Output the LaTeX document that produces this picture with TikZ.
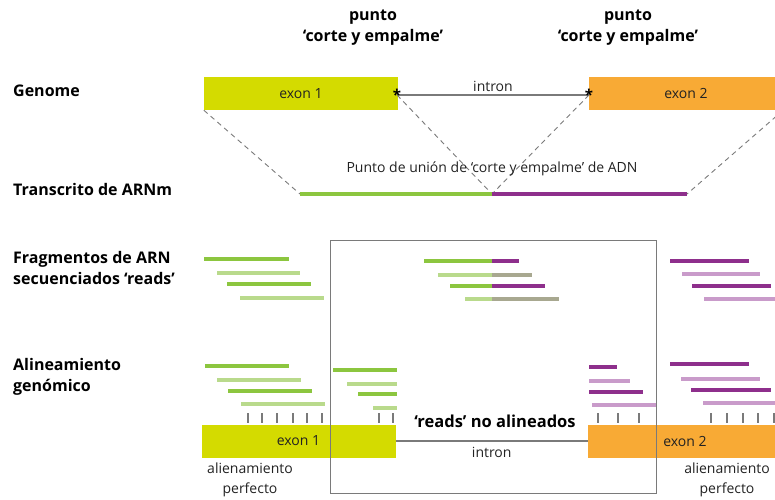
\documentclass[tikz,border=0pt]{standalone}
\usepackage{fontspec}
\setmainfont{Open Sans}
\usetikzlibrary{positioning}

\definecolor{exonyellow}{HTML}{D4DB00}
\definecolor{exonorange}{HTML}{F8AA35}
\definecolor{rdgreen}{HTML}{8CC63F}
\definecolor{rdlgreen}{HTML}{B9DA8C}
\definecolor{rdpurple}{HTML}{8E2F8C}
\definecolor{rdlpurple}{HTML}{C99BCA}
\definecolor{rdolive}{HTML}{A8A890}
\definecolor{linegray}{HTML}{7A7A7A}
\definecolor{textdark}{HTML}{222222}

\tikzset{
  exonbox/.style={minimum width=194pt, minimum height=33pt, inner sep=0pt,
    text=textdark, font=\fontsize{14}{16}\selectfont},
  rowlabel/.style={anchor=west, align=left, inner sep=0pt, text=black,
    font=\bfseries\fontsize{16}{21}\selectfont},
  toplabel/.style={align=center, inner sep=0pt, text=black,
    font=\bfseries\fontsize{16}{21}\selectfont},
  smalltext/.style={inner sep=2pt, text=textdark, font=\fontsize{14}{20}\selectfont},
  intronline/.style={linegray, line width=1.4pt},
  cutline/.style={linegray, line width=0.9pt, dash pattern=on 5pt off 4pt},
  readline/.style={line width=3.4pt},
  tickline/.style={linegray, line width=1.5pt},
  splicemark/.style={inner sep=0pt, text=black, font=\bfseries\fontsize{15}{15}\selectfont},
}

\begin{document}
\begin{tikzpicture}[x=1pt, y=-1pt]
  \useasboundingbox (0,0) rectangle (775,499);
  \clip (0,0) rectangle (775,499);

  % top row: genome
  \node [toplabel] (sp1) at (373,28) {punto\\‘corte y empalme’};
  \node [toplabel] (sp2) at (628,28) {punto\\‘corte y empalme’};
  \node [rowlabel] (genome) at (13,91) {Genome};
  \node [exonbox, fill=exonyellow] (ex1) at (301,93.5) {exon 1};
  \node [exonbox, fill=exonorange] (ex2) at (686,93.5) {exon 2};
  \coordinate (i1) at (397,95);
  \coordinate (i2) at (589,95);
  \draw [intronline] (i1) -- node [smalltext, above=1pt] {intron} (i2);
  \node [splicemark] at (i1) {*};
  \node [splicemark] at (i2) {*};

  % transcript
  \node [rowlabel] (transcr) at (13,189) {Transcrito de ARNm};
  \coordinate (trA) at (300,194);
  \coordinate (junc) at (492,194);
  \coordinate (trB) at (687,194);
  \draw [cutline] (ex1.south west) -- (trA);
  \draw [cutline] (i1) -- (junc);
  \draw [cutline] (i2) -- (junc);
  \draw [cutline] (ex2.south east) -- (trB);
  \node [smalltext] (junclabel) at (492,169) {Punto de unión de ‘corte y empalme’ de ADN};
  \draw [rdgreen, line width=3.4pt] (trA) -- (junc);
  \draw [rdpurple, line width=3.4pt] (junc) -- (trB);

  % sequenced reads
  \node [rowlabel] (frag) at (13,268) {Fragmentos de ARN\\secuenciados ‘reads’};
  \foreach \xa/\xb/\y/\c in {204/289/259/rdgreen, 217/300/273/rdlgreen,
      227/311/284/rdgreen, 240/324/298/rdlgreen,
      670/749/261/rdpurple, 682/760/274/rdlpurple,
      692/771/286/rdpurple, 704/780/299/rdlpurple}
    \draw [readline, \c] (\xa,\y) -- (\xb,\y);
  \foreach \xa/\xb/\y/\ca/\cb in {424/519/261/rdgreen/rdpurple,
      438/532/275/rdlgreen/rdolive, 450/545/286/rdgreen/rdpurple,
      465/559/299/rdlgreen/rdolive} {
    \draw [readline, \ca] (\xa,\y) -- (492,\y);
    \draw [readline, \cb] (492,\y) -- (\xb,\y);
  }

  % genome alignment
  \node [rowlabel] (align) at (13,377) {Alineamiento\\genómico};
  \foreach \xa/\xb/\y/\c in {205/289/366/rdgreen, 217/301/380/rdlgreen,
      228/312/391/rdgreen, 241/325/404/rdlgreen,
      333/397/370/rdgreen, 347/397/384/rdlgreen,
      358/397/394/rdgreen, 373/397/408/rdlgreen,
      589/617/367/rdpurple, 589/630/381/rdlpurple,
      589/643/392/rdpurple, 592/657/405/rdlpurple,
      670/749/364/rdpurple, 681/760/379/rdlpurple,
      691/771/390/rdpurple, 703/780/403/rdlpurple}
    \draw [readline, \c] (\xa,\y) -- (\xb,\y);
  \foreach \x in {248,262,277,293,307,322,379,393,598,618,639,711,727,743,758,774}
    \draw [tickline] (\x,413) -- (\x,423);

  \node [exonbox, fill=exonyellow] (ex1b) at (298.5,441) {exon 1};
  \node [exonbox, fill=exonorange] (ex2b) at (685,441) {exon 2};
  \draw [intronline] (ex1b.east) -- node [smalltext, below=4pt] {intron} (ex2b.west);
  \node [font=\bfseries\fontsize{16.5}{18}\selectfont, inner sep=0pt] (unal) at (495,421) {‘reads’ no alineados};
  \node [smalltext, align=center] (perf1) at (250,480) {alienamiento\\perfecto};
  \node [smalltext, align=center] (perf2) at (727,480) {alienamiento\\perfecto};

  % frame round the unaligned reads
  \draw [linegray, line width=0.9pt] (330,240) rectangle (656,493);
\end{tikzpicture}
\end{document}
